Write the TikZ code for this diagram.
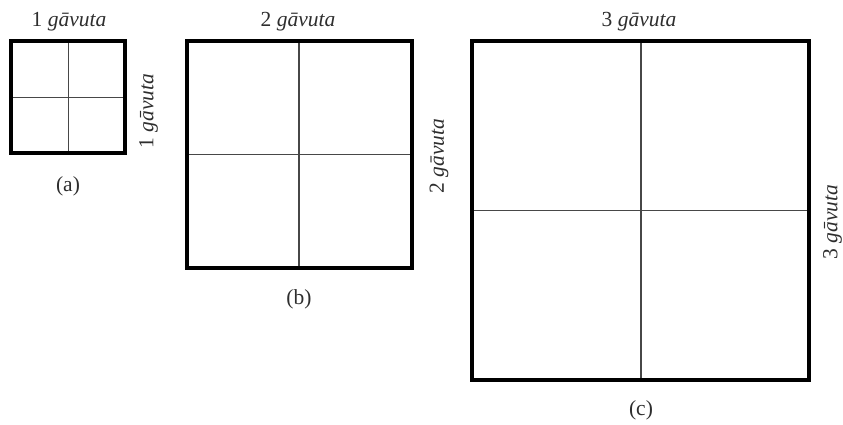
\documentclass[tikz,border=0pt]{standalone}
\usepackage{fontspec}
\setmainfont{Liberation Serif}
\begin{document}
\begin{tikzpicture}[x=1pt,y=-1pt,
  frame/.style={line width=4pt, draw=black},
  gridline/.style={line width=1.3pt, draw=black!72},
  lab/.style={font=\fontsize{21.5}{24}\selectfont, text=black!82, inner sep=0pt}]
\useasboundingbox (0,0) rectangle (843,425);
% (a)
\draw[gridline] (68.5,41) -- (68.5,153) (11,97.5) -- (125,97.5);
\draw[frame] (11,41) rectangle (125,153);
\node[lab] (ta) at (69,21.5) {1 \textit{gāvuta}};
\node[lab, rotate=90] (ra) at (148.5,111) {1 \textit{gāvuta}};
\node[lab] (ca) at (68,186.5) {(a)};
% (b)
\draw[gridline] (299,41.5) -- (299,268) (187,154.5) -- (412,154.5);
\draw[frame] (187,41.5) rectangle (412,268);
\node[lab] (tb) at (298,21.5) {2 \textit{gāvuta}};
\node[lab, rotate=90] (rb) at (439,156) {2 \textit{gāvuta}};
\node[lab] (cb) at (299,299.5) {(b)};
% (c)
\draw[gridline] (641,41.5) -- (641,379.5) (472,210.5) -- (808.5,210.5);
\draw[frame] (472,41.5) rectangle (808.5,379.5);
\node[lab] (tc) at (639,21.5) {3 \textit{gāvuta}};
\node[lab, rotate=90] (rc) at (832.5,222) {3 \textit{gāvuta}};
\node[lab] (cc) at (641,410.5) {(c)};
\end{tikzpicture}
\end{document}
